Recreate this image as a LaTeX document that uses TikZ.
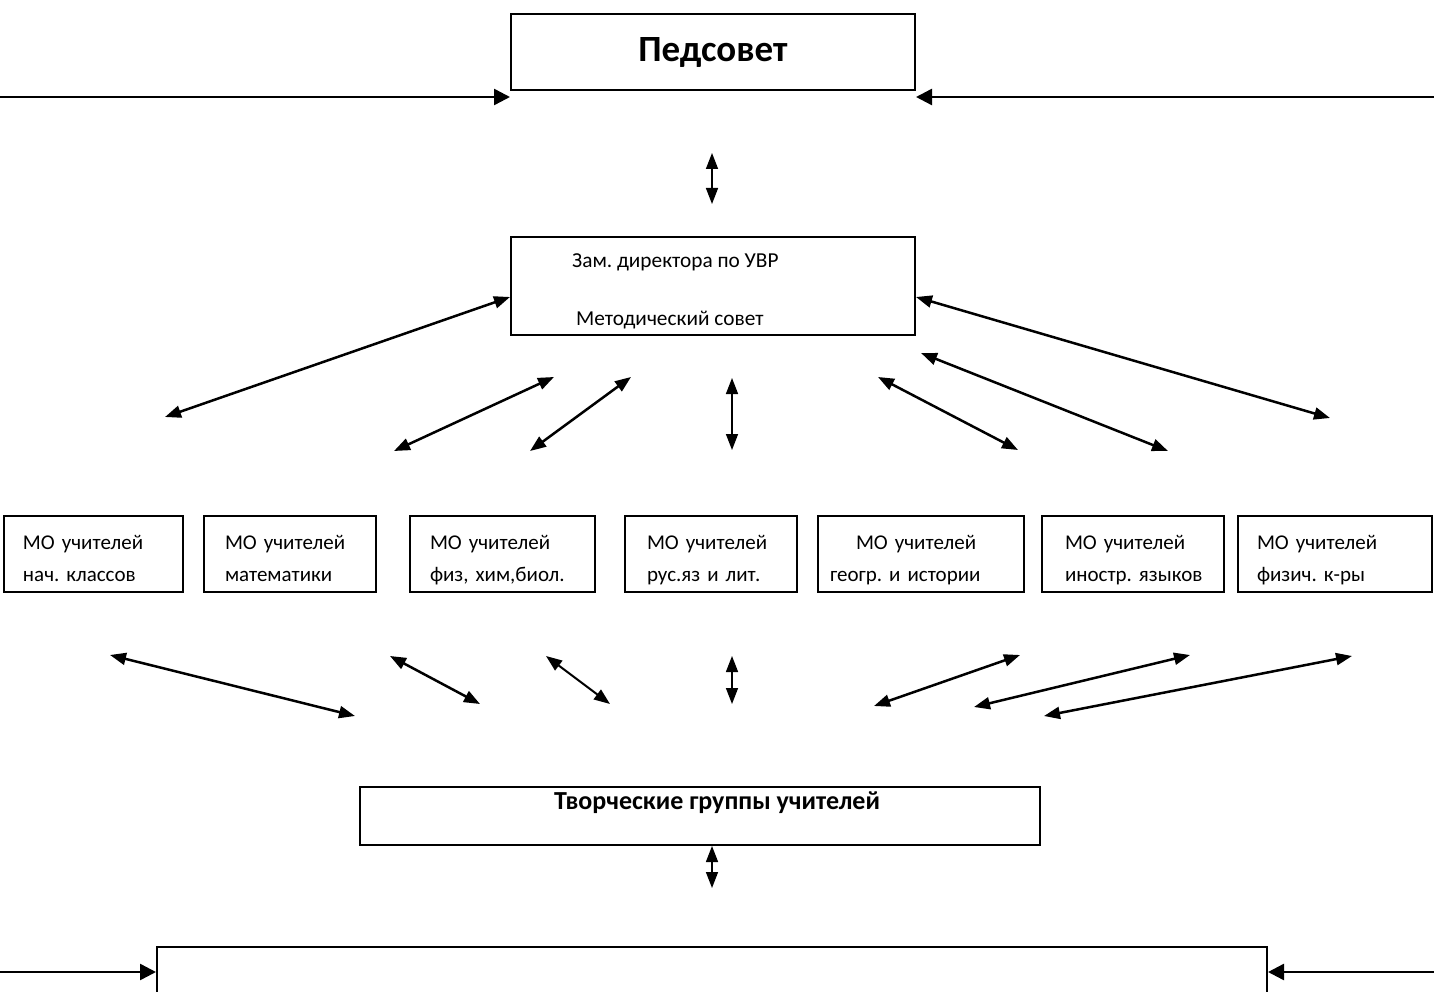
\documentclass[tikz,border=0pt]{standalone}
\usepackage{fontspec}
\setmainfont{Carlito}
\usetikzlibrary{arrows.meta}
\newcommand\mohi{\rule{0pt}{29pt}}
\newcommand\molo{\rule[-7pt]{0pt}{7pt}}
\tikzset{
  box/.style={draw, line width=2pt, inner sep=0pt},
  mobox/.style={box, minimum height=76pt, align=left, font=\fontsize{21}{32}\selectfont},
  txt/.style={font=\fontsize{21.3}{28}\selectfont, anchor=base west, inner sep=0pt},
  onearr/.style={line width=2.5pt, -{Triangle[length=16pt,width=16pt]}},
  dblarr/.style={line width=2.5pt, {Triangle[length=16pt,width=12pt]}-{Triangle[length=16pt,width=12pt]}},
  thinarr/.style={dblarr, line width=1.5pt},
}

\begin{document}
\frenchspacing
\begin{tikzpicture}[x=1pt,y=-1pt]
\useasboundingbox (0,0) rectangle (1434,992);
% top level
\node[box, minimum width=404pt, minimum height=76pt, font=\fontsize{37}{40}\selectfont\bfseries] (ped) at (713,52.5) {Педсовет};
\coordinate (pedl) at (0,97);
\coordinate (pedr) at (1434,97);
\draw[onearr] (pedl) -- (pedl -| ped.west);
\draw[onearr] (pedr) -- (pedr -| ped.east);
\coordinate (v1a) at (712,153);
\coordinate (v1b) at (712,204);
\draw[thinarr] (v1a) -- (v1b);

\node[box, minimum width=404pt, minimum height=98pt] (zam) at (713,286) {};
\node[txt] (zam1) at (572,268) {Зам. директора по УВР};
\node[txt] (zam2) at (576,325) {Методический совет};

% arrows to the MO row
\coordinate (a1) at (165,417);
\coordinate (a2s) at (394,451);
\coordinate (a2e) at (554,377);
\coordinate (a3s) at (530,451);
\coordinate (a3e) at (631,377);
\coordinate (a4s) at (732,378);
\coordinate (a4e) at (732,450);
\coordinate (a5s) at (878,377);
\coordinate (a5e) at (1018,450);
\coordinate (a6s) at (921,353);
\coordinate (a6e) at (1168,451);
\coordinate (a7) at (1330,418);
\draw[dblarr] (a1) -- ([yshift=-11pt]zam.west);
\draw[dblarr] (a2s) -- (a2e);
\draw[dblarr] (a3s) -- (a3e);
\draw[thinarr] (a4s) -- (a4e);
\draw[dblarr] (a5s) -- (a5e);
\draw[dblarr] (a6s) -- (a6e);
\draw[dblarr] ([yshift=-11pt]zam.east) -- (a7);

% MO row
\node[mobox, minimum width=179pt, inner xsep=19pt, text width=141pt] (mo1) at (93.5,554) {\mohi МО учителей\\нач. классов\molo};
\node[mobox, minimum width=172pt, inner xsep=21pt, text width=130pt] (mo2) at (290,554) {\mohi МО учителей\\математики\molo};
\node[mobox, minimum width=185pt, inner xsep=20pt, text width=145pt] (mo3) at (502.5,554) {\mohi МО учителей\\физ, хим,биол.\molo};
\node[mobox, minimum width=172pt, inner xsep=22pt, text width=128pt] (mo4) at (711,554) {\mohi МО учителей\\рус.яз и лит.\molo};
\node[mobox, minimum width=206pt, inner xsep=12pt, text width=182pt] (mo5) at (921,554) {\mohi\hspace*{26pt}МО учителей\\геогр. и истории\molo};
\node[mobox, minimum width=182pt, inner xsep=20pt, text width=142pt] (mo6) at (1133,554) {\mohi\hspace*{3pt}МО учителей\\\hspace*{3pt}иностр. языков\molo};
\node[mobox, minimum width=194pt, inner xsep=19pt, text width=156pt, line width=1.2pt] (mo7) at (1335,554) {\mohi МО учителей\\физич. к-ры\molo};

% arrows to the creative groups
\coordinate (b1s) at (110,655);
\coordinate (b1e) at (355,716);
\coordinate (b2s) at (390,656);
\coordinate (b2e) at (480,704);
\coordinate (b3s) at (546,656);
\coordinate (b3e) at (610,704);
\coordinate (b4s) at (732,656);
\coordinate (b4e) at (732,704);
\coordinate (b5s) at (1020,655);
\coordinate (b5e) at (874,706);
\coordinate (b6s) at (1190,655);
\coordinate (b6e) at (974,707);
\coordinate (b7s) at (1352,656);
\coordinate (b7e) at (1044,716);
\draw[dblarr] (b1s) -- (b1e);
\draw[dblarr] (b2s) -- (b2e);
\draw[dblarr, line width=2pt] (b3s) -- (b3e);
\draw[thinarr] (b4s) -- (b4e);
\draw[dblarr] (b5s) -- (b5e);
\draw[dblarr] (b6s) -- (b6e);
\draw[dblarr] (b7s) -- (b7e);

\node[box, minimum width=680pt, minimum height=58pt] (tg) at (700,816) {};
\node[font=\fontsize{26}{30}\selectfont\bfseries, anchor=base, inner sep=0pt] (tgt) at (717,809) {Творческие группы учителей};
\coordinate (v2) at (712,888);
\draw[thinarr] (v2 |- tg.south) -- (v2);

% bottom
\node[box, minimum width=1110pt, minimum height=90pt] (bot) at (712,992) {};
\coordinate (botl) at (0,972);
\coordinate (botr) at (1434,972);
\draw[onearr] (botl) -- (botl -| bot.west);
\draw[onearr] (botr) -- (botr -| bot.east);
\end{tikzpicture}
\end{document}
